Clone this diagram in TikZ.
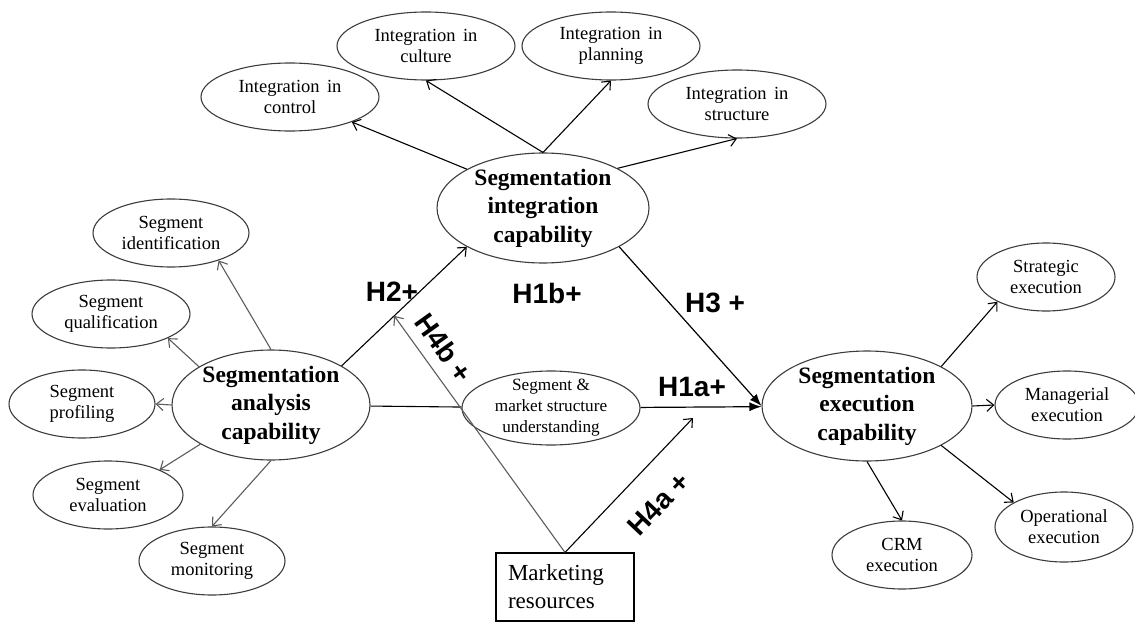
\documentclass[tikz,border=0pt]{standalone}
\usepackage{fontspec}
\setmainfont{Liberation Serif}
\newfontfamily\hfont{Liberation Sans}
\usetikzlibrary{shapes.geometric,arrows.meta,calc}

\definecolor{outline}{HTML}{3C3C3C}
\definecolor{grayline}{HTML}{5C5C5C}

\begin{document}
\begin{tikzpicture}[x=1pt,y=-1pt,
  ell/.style 2 args={ellipse, draw=outline, line width=1.1pt,
    minimum width=#1, minimum height=#2, inner sep=0pt},
  subtxt/.style={font=\fontsize{18.5}{21}\selectfont, align=center, inner sep=0pt},
  smutxt/.style={font=\fontsize{17.2}{21}\selectfont, align=center, inner sep=0pt},
  maintxt/.style={font=\fontsize{23.5}{28.5}\selectfont\bfseries, align=center, inner sep=0pt},
  hyp/.style={font=\hfont\bfseries\fontsize{28}{30}\selectfont, inner sep=0pt},
  barbarrow/.style={-{Straight Barb[length=7pt,width=12pt]}, line width=1.1pt},
  grayarrow/.style={barbarrow, draw=grayline},
  filledarrow/.style={-{Latex[length=12pt,width=9pt]}, line width=1.2pt},
]
\useasboundingbox (0,0) rectangle (1135,623);

% integration dimensions
\node[ell={178pt}{68pt}, label={[subtxt]center:Integration\hspace{0.4em}in\\control}] (ctrl) at (290,97) {};
\node[ell={178pt}{68pt}, label={[subtxt]center:Integration\hspace{0.4em}in\\culture}] (cult) at (426,46) {};
\node[ell={178pt}{68pt}, label={[subtxt]center:Integration\hspace{0.4em}in\\planning}] (plan) at (611,46) {};
\node[ell={178pt}{68pt}, label={[subtxt]center:Integration\hspace{0.4em}in\\structure}] (struc) at (737,104) {};

% core capabilities
\node[ell={212pt}{110pt}, label={[maintxt]center:Segmentation\\integration\\capability}] (intcap) at (543,208) {};
\node[ell={198pt}{110pt}, label={[maintxt]center:Segmentation\\analysis\\capability}] (ana) at (271,405) {};
\node[ell={210pt}{110pt}, label={[maintxt]center:Segmentation\\execution\\capability}] (exec) at (867,406) {};

% analysis dimensions
\node[ell={156pt}{68pt}, label={[subtxt]center:Segment\\identification}] (ident) at (171,233) {};
\node[ell={158pt}{68pt}, label={[subtxt]center:Segment\\qualification}] (qual) at (111,314) {};
\node[ell={146pt}{68pt}, label={[subtxt]center:Segment\\profiling}] (prof) at (82,404) {};
\node[ell={150pt}{68pt}, label={[subtxt]center:Segment\\evaluation}] (eval) at (108,495) {};
\node[ell={146pt}{68pt}, label={[subtxt]center:Segment\\monitoring}] (mon) at (212,561) {};

% mediator
\node[ell={178pt}{74pt}, label={[smutxt]center:Segment \&\\market structure\\understanding}] (smu) at (551,408) {};

% execution dimensions
\node[ell={138pt}{68pt}, label={[subtxt]center:Strategic\\execution}] (strat) at (1046,277) {};
\node[ell={144pt}{68pt}, label={[subtxt]center:Managerial\\execution}] (man) at (1067,405) {};
\node[ell={138pt}{70pt}, label={[subtxt]center:Operational\\execution}] (oper) at (1064,527) {};
\node[ell={140pt}{68pt}, label={[subtxt]center:CRM\\execution}] (crm) at (902,555) {};

% moderator
\node[draw=black, line width=1.1pt, minimum width=138pt, minimum height=68pt,
  text width=114pt, inner sep=0pt, align=left,
  font=\fontsize{23}{28}\selectfont] (res) at (565,587) {Marketing\\resources};

% integration arrows
\draw[barbarrow] (intcap.north) -- (cult.south);
\draw[barbarrow] (intcap.north) -- (plan.south);
\draw[barbarrow] (intcap.153) -- (ctrl.-22);
\draw[barbarrow] (intcap.28) -- (struc.south);

% analysis arrows
\draw[grayarrow] (ana.north) -- (ident.-30);
\draw[grayarrow] (ana.152) -- (qual.-23);
\draw[grayarrow] (ana.west) -- (prof.east);
\draw[grayarrow] (ana.209) -- (eval.26);
\draw[grayarrow] (ana.south) -- (mon.north);

% execution arrows
\draw[barbarrow] (exec.28) -- (strat.207);
\draw[barbarrow] (exec.east) -- (man.west);
\draw[barbarrow] (exec.-28) -- (oper.154);
\draw[barbarrow] (exec.south) -- (crm.north);

% hypothesised paths
\draw[barbarrow] (ana.29) -- (intcap.207);
\draw[filledarrow] (intcap.-27) -- (exec.west);
\draw[line width=1.1pt] (ana) -- (smu);
\draw[filledarrow] (smu) -- (exec);

\coordinate (h2pt) at ($(ana.29)!0.42!(intcap.207)$);
\coordinate (h1apt) at (693,418);
\draw[grayarrow] (res.north) -- (h2pt);
\draw[barbarrow] (res.north) -- (h1apt);

% hypothesis labels
\node[hyp] (h2) at (392,292) {H2+};
\node[hyp] (h1b) at (547,293) {H1b+};
\node[hyp] (h3) at (715,303) {H3 +};
\node[hyp] (h1a) at (692,387) {H1a+};
\node[hyp, rotate=-54.5] (h4b) at (444,348) {H4b +};
\node[hyp, rotate=46.5] (h4a) at (659,504) {H4a +};
\end{tikzpicture}
\end{document}
